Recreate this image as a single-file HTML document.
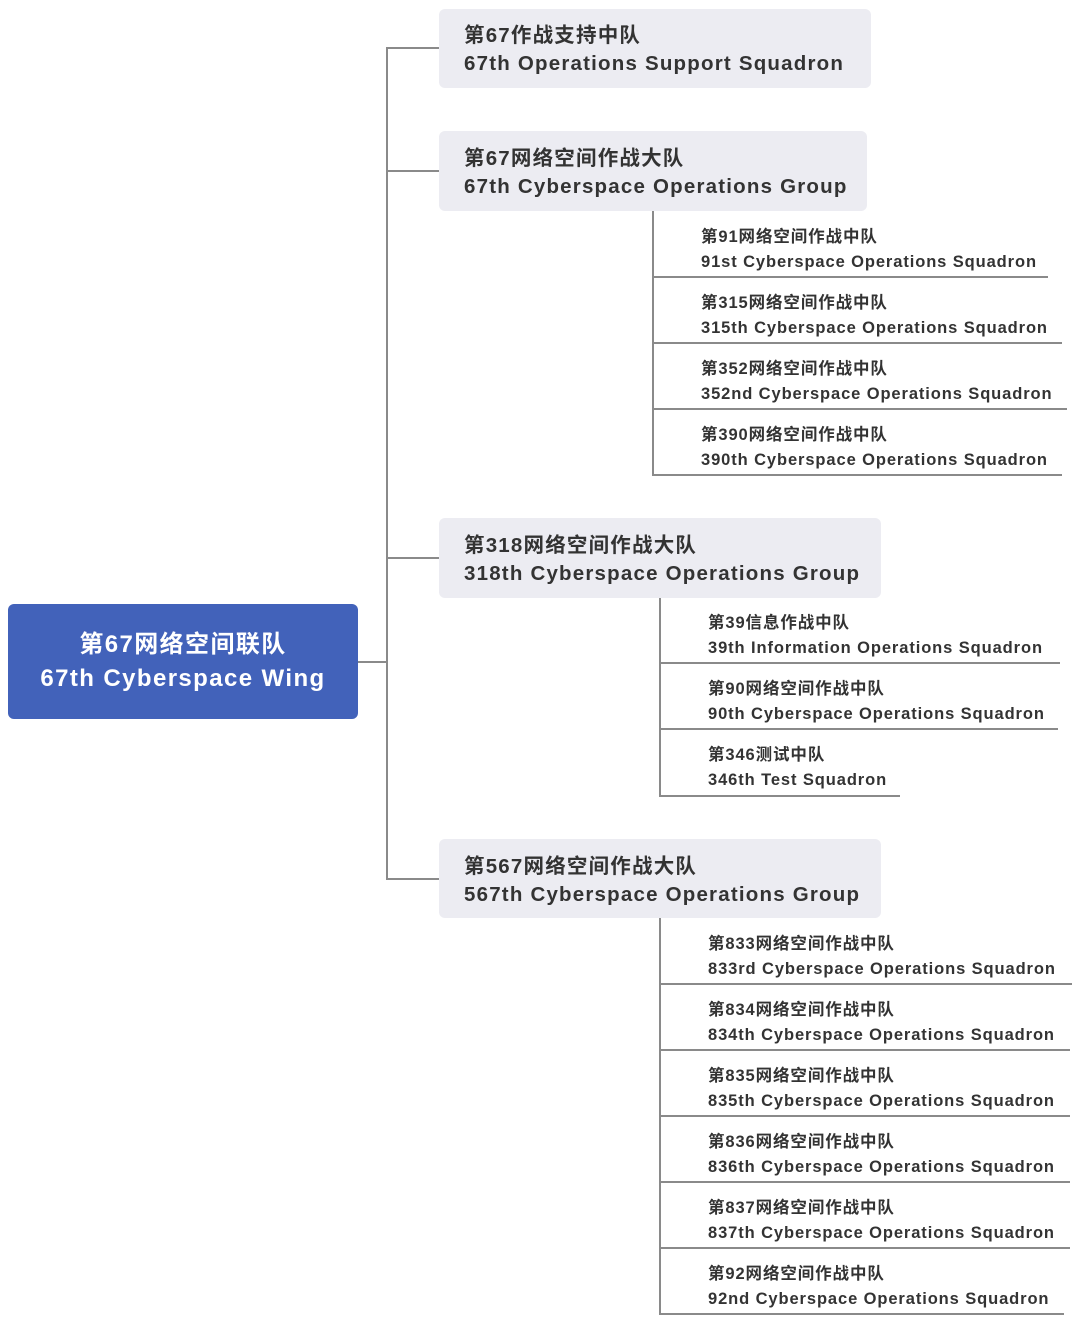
<!DOCTYPE html>
<html><head><meta charset="utf-8"><style>
body{margin:0;width:1080px;height:1324px;background:#fff;position:relative;overflow:hidden;font-family:"Liberation Sans","Noto Sans CJK SC",sans-serif;color:#333;}
.a{position:absolute}
.l{position:absolute;background:#8a8a8a}
.box{position:absolute;background:#ececf2;border-radius:6px;}
.bt{position:absolute;left:25px;font-weight:bold;font-size:20.5px;letter-spacing:1.2px;line-height:28px;white-space:nowrap;color:#333}
.s{position:absolute;font-weight:bold;font-size:16.5px;letter-spacing:0.9px;line-height:25px;white-space:nowrap;color:#333}
</style></head><body>
<div class="a" style="left:8px;top:604px;width:350px;height:115px;background:#4262ba;border-radius:6px;color:#fff;text-align:center;font-weight:bold;font-size:24px;letter-spacing:1.4px;line-height:34px;padding-top:24px;box-sizing:border-box;">第67网络空间联队<br>67th Cyberspace Wing</div>
<div class="l" style="left:358px;top:661px;width:29px;height:2px"></div>
<div class="l" style="left:386px;top:48px;width:2px;height:832px"></div>
<div class="l" style="left:386px;top:47px;width:53px;height:2px"></div>
<div class="l" style="left:386px;top:170px;width:53px;height:2px"></div>
<div class="l" style="left:386px;top:557px;width:53px;height:2px"></div>
<div class="l" style="left:386px;top:878px;width:53px;height:2px"></div>

<div class="box" style="left:439px;top:9px;width:432px;height:79px"><div class="bt" style="top:13px">第67作战支持中队<br>67th Operations Support Squadron</div></div>
<div class="box" style="left:439px;top:131px;width:428px;height:80px"><div class="bt" style="top:14px">第67网络空间作战大队<br>67th Cyberspace Operations Group</div></div>
<div class="box" style="left:439px;top:518px;width:442px;height:80px"><div class="bt" style="top:14px">第318网络空间作战大队<br>318th Cyberspace Operations Group</div></div>
<div class="box" style="left:439px;top:839px;width:442px;height:79px"><div class="bt" style="top:14px">第567网络空间作战大队<br>567th Cyberspace Operations Group</div></div>

<div class="l" style="left:652px;top:211px;width:2px;height:264px"></div>
<div class="l" style="left:652px;top:276px;width:396px;height:2px"></div>
<div class="s" style="left:701px;top:225px">第91网络空间作战中队<br>91st Cyberspace Operations Squadron</div>
<div class="l" style="left:652px;top:342px;width:410px;height:2px"></div>
<div class="s" style="left:701px;top:291px">第315网络空间作战中队<br>315th Cyberspace Operations Squadron</div>
<div class="l" style="left:652px;top:408px;width:415px;height:2px"></div>
<div class="s" style="left:701px;top:357px">第352网络空间作战中队<br>352nd Cyberspace Operations Squadron</div>
<div class="l" style="left:652px;top:474px;width:410px;height:2px"></div>
<div class="s" style="left:701px;top:423px">第390网络空间作战中队<br>390th Cyberspace Operations Squadron</div>

<div class="l" style="left:659px;top:598px;width:2px;height:198px"></div>
<div class="l" style="left:659px;top:662px;width:401px;height:2px"></div>
<div class="s" style="left:708px;top:611px">第39信息作战中队<br>39th Information Operations Squadron</div>
<div class="l" style="left:659px;top:728px;width:399px;height:2px"></div>
<div class="s" style="left:708px;top:677px">第90网络空间作战中队<br>90th Cyberspace Operations Squadron</div>
<div class="l" style="left:659px;top:795px;width:241px;height:2px"></div>
<div class="s" style="left:708px;top:743px">第346测试中队<br>346th Test Squadron</div>

<div class="l" style="left:659px;top:918px;width:2px;height:397px"></div>
<div class="l" style="left:659px;top:983px;width:413px;height:2px"></div>
<div class="s" style="left:708px;top:932px">第833网络空间作战中队<br>833rd Cyberspace Operations Squadron</div>
<div class="l" style="left:659px;top:1049px;width:411px;height:2px"></div>
<div class="s" style="left:708px;top:998px">第834网络空间作战中队<br>834th Cyberspace Operations Squadron</div>
<div class="l" style="left:659px;top:1115px;width:411px;height:2px"></div>
<div class="s" style="left:708px;top:1064px">第835网络空间作战中队<br>835th Cyberspace Operations Squadron</div>
<div class="l" style="left:659px;top:1181px;width:411px;height:2px"></div>
<div class="s" style="left:708px;top:1130px">第836网络空间作战中队<br>836th Cyberspace Operations Squadron</div>
<div class="l" style="left:659px;top:1247px;width:411px;height:2px"></div>
<div class="s" style="left:708px;top:1196px">第837网络空间作战中队<br>837th Cyberspace Operations Squadron</div>
<div class="l" style="left:659px;top:1313px;width:405px;height:2px"></div>
<div class="s" style="left:708px;top:1262px">第92网络空间作战中队<br>92nd Cyberspace Operations Squadron</div>
</body></html>
